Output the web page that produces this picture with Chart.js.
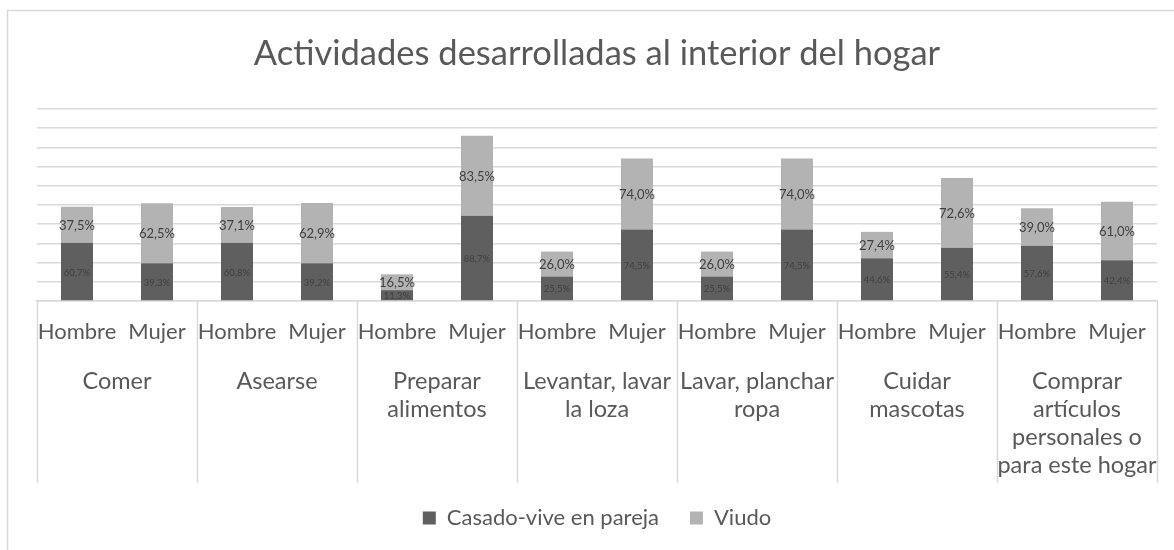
<!DOCTYPE html>
<html>
<head>
<meta charset="utf-8">
<script src="https://cdn.jsdelivr.net/npm/chart.js@4/dist/chart.umd.min.js"></script>
<style>
  html, body { margin: 0; padding: 0; background: #fff; }
  #wrap { width: 1174px; height: 550px; }
</style>
</head>
<body>
<div id="wrap"><canvas id="chart"></canvas></div>
<script>
const groups = [
  ['Comer'],
  ['Asearse'],
  ['Preparar', 'alimentos'],
  ['Levantar, lavar', 'la loza'],
  ['Lavar, planchar', 'ropa'],
  ['Cuidar', 'mascotas'],
  ['Comprar', 'artículos', 'personales o', 'para este hogar']
];
const sexes = ['Hombre', 'Mujer'];
const casado = [60.7, 39.3, 60.8, 39.2, 11.3, 88.7, 25.5, 74.5, 25.5, 74.5, 44.6, 55.4, 57.6, 42.4];
const viudo = [37.5, 62.5, 37.1, 62.9, 16.5, 83.5, 26.0, 74.0, 26.0, 74.0, 27.4, 72.6, 39.0, 61.0];

const FONT = "Lato, 'Open Sans', sans-serif";
const TEXT = '#595959';
const LINE = '#d9d9d9';

const labels = [];
groups.forEach(() => sexes.forEach(s => labels.push(s)));

const fmt = v => v.toFixed(1).replace('.', ',') + '%';

// labels inside each bar segment
const valueLabels = {
  id: 'valueLabels',
  afterDatasetsDraw(chart) {
    const ctx = chart.ctx;
    ctx.save();
    ctx.textAlign = 'center';
    ctx.textBaseline = 'middle';
    chart.data.datasets.forEach((ds, i) => {
      const meta = chart.getDatasetMeta(i);
      ctx.font = (i === 0 ? '9.5px ' : '13px ') + FONT;
      ctx.fillStyle = '#404040';
      meta.data.forEach((bar, j) => {
        const y = (bar.y + bar.base) / 2;
        ctx.fillText(fmt(ds.data[j]), bar.x, y + 1);
      });
    });
    ctx.restore();
  }
};

// group boxes and names under the sub labels
const groupAxis = {
  id: 'groupAxis',
  afterDraw(chart) {
    const ctx = chart.ctx;
    const xs = chart.scales.x;
    const top = chart.chartArea.bottom;
    const bottom = top + 182;
    ctx.save();
    ctx.strokeStyle = LINE;
    ctx.lineWidth = 1.5;
    const edges = [xs.left];
    for (let g = 1; g < groups.length; g++) {
      edges.push((xs.getPixelForValue(2 * g - 1) + xs.getPixelForValue(2 * g)) / 2);
    }
    edges.push(xs.right);
    edges.forEach(x => {
      ctx.beginPath();
      ctx.moveTo(Math.round(x) + 0.5, top);
      ctx.lineTo(Math.round(x) + 0.5, bottom);
      ctx.stroke();
    });
    ctx.fillStyle = TEXT;
    ctx.font = '23.5px ' + FONT;
    ctx.textAlign = 'center';
    ctx.textBaseline = 'middle';
    groups.forEach((lines, g) => {
      const cx = (xs.getPixelForValue(2 * g) + xs.getPixelForValue(2 * g + 1)) / 2;
      lines.forEach((t, k) => ctx.fillText(t, cx, top + 80 + k * 28));
    });
    ctx.restore();
  }
};

// outer chart frame
const frame = {
  id: 'frame',
  beforeDraw(chart) {
    const ctx = chart.ctx;
    ctx.save();
    ctx.fillStyle = '#fff';
    ctx.fillRect(0, 0, chart.width, chart.height);
    ctx.strokeStyle = LINE;
    ctx.lineWidth = 1.5;
    ctx.beginPath();
    ctx.moveTo(7.5, chart.height);
    ctx.lineTo(7.5, 10.5);
    ctx.lineTo(chart.width, 10.5);
    ctx.stroke();
    ctx.restore();
  }
};

new Chart(document.getElementById('chart'), {
  type: 'bar',
  data: {
    labels: labels,
    datasets: [
      {
        label: 'Casado-vive en pareja',
        data: casado,
        backgroundColor: '#5f5f5f',
        barPercentage: 0.5,
        categoryPercentage: 0.8
      },
      {
        label: 'Viudo',
        data: viudo,
        backgroundColor: '#b3b3b3',
        barPercentage: 0.5,
        categoryPercentage: 0.8
      }
    ]
  },
  options: {
    responsive: true,
    maintainAspectRatio: false,
    animation: false,
    layout: {
      padding: { left: 37, right: 17, top: 0, bottom: 11 }
    },
    scales: {
      x: {
        stacked: true,
        grid: { display: false, drawTicks: false },
        border: { display: true, color: LINE, width: 1.5 },
        ticks: {
          color: TEXT,
          font: { family: FONT, size: 22 },
          padding: 18,
          maxRotation: 0,
          autoSkip: false
        },
        afterFit(scale) { scale.height = 175; }
      },
      y: {
        stacked: true,
        min: 0,
        max: 200,
        ticks: { display: false, stepSize: 20 },
        grid: { color: LINE, lineWidth: 1.5, drawTicks: false },
        border: { display: false },
        afterFit(scale) { scale.width = 0; }
      }
    },
    plugins: {
      title: {
        display: true,
        text: 'Actividades desarrolladas al interior del hogar',
        color: TEXT,
        font: { family: FONT, size: 34.5, weight: 'normal' },
        padding: { top: 33, bottom: 34.6 }
      },
      legend: {
        position: 'bottom',
        labels: {
          color: TEXT,
          font: { family: FONT, size: 22 },
          boxWidth: 13,
          boxHeight: 13,
          padding: 31
        }
      },
      tooltip: { enabled: false }
    }
  },
  plugins: [frame, valueLabels, groupAxis]
});
</script>
</body>
</html>
